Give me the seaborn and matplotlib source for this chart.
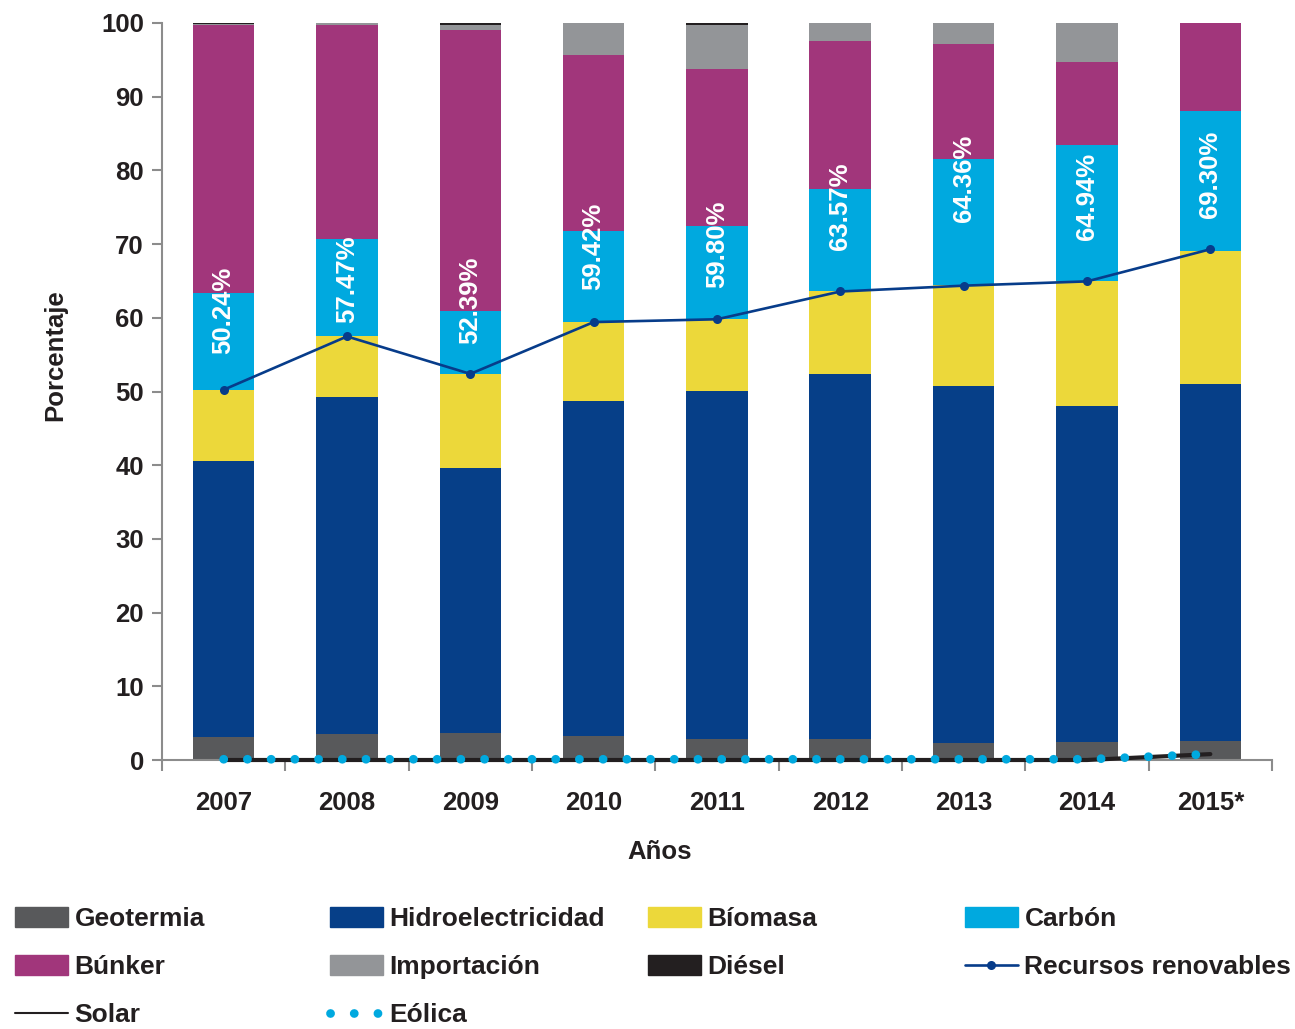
import numpy as np
import matplotlib
matplotlib.use("Agg")
import matplotlib.pyplot as plt
import seaborn as sns
from matplotlib.patches import Patch
from matplotlib.lines import Line2D

# Generation mix by source (percentage of total), 2007-2015
years = ["2007", "2008", "2009", "2010", "2011", "2012", "2013", "2014", "2015*"]
geotermia = [3.1, 3.5, 3.7, 3.3, 2.9, 2.9, 2.3, 2.4, 2.6]
hidroelectricidad = [37.5, 45.7, 35.9, 45.4, 47.2, 49.5, 48.4, 45.6, 48.4]
biomasa = [9.6, 8.3, 12.8, 10.7, 9.7, 11.2, 13.7, 17.0, 18.1]
carbon = [13.1, 13.2, 8.5, 12.4, 12.7, 13.9, 17.1, 18.4, 18.9]
bunker = [36.4, 29.0, 38.2, 23.8, 21.3, 20.0, 15.7, 11.3, 12.0]
importacion = [0.1, 0.3, 0.6, 4.4, 5.9, 2.5, 2.8, 5.3, 0.0]
diesel = [0.2, 0.0, 0.3, 0.0, 0.3, 0.0, 0.0, 0.0, 0.0]
solar = [0.0, 0.0, 0.0, 0.0, 0.0, 0.0, 0.0, 0.0, 0.8]
eolica = [0.1, 0.1, 0.1, 0.1, 0.1, 0.1, 0.1, 0.1, 0.8]
renovables = [50.24, 57.47, 52.39, 59.42, 59.80, 63.57, 64.36, 64.94, 69.30]

C_GEO = "#58595b"
C_HIDRO = "#063f88"
C_BIO = "#ecd83a"
C_CARBON = "#00a9df"
C_BUNKER = "#a1367b"
C_IMPORT = "#939598"
C_DIESEL = "#231f20"
C_RENOV = "#073c8a"
C_TEXT = "#231f20"
C_SPINE = "#8c8c8c"

sns.set_theme(style="white")
plt.rcParams["font.family"] = ["Liberation Sans", "DejaVu Sans"]
plt.rcParams["font.weight"] = "bold"

fig = plt.figure(figsize=(12.95, 10.29), dpi=100)
ax = fig.add_axes([162 / 1295, 1 - 760 / 1029, 1110 / 1295, 737 / 1029])

layers = [
    ("Geotermia", geotermia, C_GEO),
    ("Hidroelectricidad", hidroelectricidad, C_HIDRO),
    ("Bíomasa", biomasa, C_BIO),
    ("Carbón", carbon, C_CARBON),
    ("Búnker", bunker, C_BUNKER),
    ("Importación", importacion, C_IMPORT),
    ("Diésel", diesel, C_DIESEL),
]

bottom = np.zeros(len(years))
for name, vals, color in layers:
    sns.barplot(x=years, y=vals, bottom=bottom.copy(), color=color, saturation=1,
                width=0.5, linewidth=0, ax=ax, zorder=2)
    bottom += np.asarray(vals)

pos = np.arange(len(years))

# Solar and wind series along the base
ax.plot(pos, solar, color=C_DIESEL, lw=3, zorder=6, clip_on=False)
ax.plot(pos, eolica, color=C_CARBON, lw=6.3, linestyle=(0, (0.01, 2.7)),
        dash_capstyle="round", zorder=7, clip_on=False)

# Share of renewable resources
sns.lineplot(x=pos, y=renovables, color=C_RENOV, lw=1.9, marker="o", markersize=6.5,
             markeredgewidth=0, ax=ax, zorder=8)

label_lift = [4.8, 1.8, 4.0, 4.35, 4.2, 5.6, 8.6, 5.6, 4.3]
for i, v in enumerate(renovables):
    ax.text(pos[i], v + label_lift[i], f"{v:.2f}%", rotation=90, ha="center",
            va="bottom", color="white", fontsize=18.5, fontweight="bold", zorder=9)

ax.set_xlim(-0.5, len(years) - 0.5)
ax.set_ylim(0, 100)
ax.set_yticks(np.arange(0, 101, 10))
ax.set_xticks(pos)
ax.set_xticklabels(years)
ax.set_xticks(np.arange(-0.5, len(years), 1), minor=True)
ax.tick_params(axis="y", length=7, width=1.5, color=C_SPINE, pad=6,
               labelsize=18.5, labelcolor=C_TEXT, left=True)
ax.tick_params(axis="x", which="major", length=0, pad=22, labelsize=18.5, labelcolor=C_TEXT)
ax.tick_params(axis="x", which="minor", length=8, width=1.5, color=C_SPINE, bottom=True)
for lbl in ax.get_xticklabels() + ax.get_yticklabels():
    lbl.set_fontweight("bold")
ax.set_xlabel("")
ax.set_ylabel("")

for side in ["top", "right"]:
    ax.spines[side].set_visible(False)
for side in ["left", "bottom"]:
    ax.spines[side].set_color(C_SPINE)
    ax.spines[side].set_linewidth(1.5)

fig.text(660 / 1295, 1 - 852 / 1029, "Años", ha="center", va="center",
         fontsize=18.5, fontweight="bold", color=C_TEXT)
fig.text(55 / 1295, 1 - 355 / 1029, "Porcentaje", ha="center", va="center",
         rotation=90, fontsize=18.5, fontweight="bold", color=C_TEXT)

# Legend laid out as four evenly spaced columns
h = {
    "Geotermia": Patch(color=C_GEO),
    "Hidroelectricidad": Patch(color=C_HIDRO),
    "Bíomasa": Patch(color=C_BIO),
    "Carbón": Patch(color=C_CARBON),
    "Búnker": Patch(color=C_BUNKER),
    "Importación": Patch(color=C_IMPORT),
    "Diésel": Patch(color=C_DIESEL),
    "Recursos renovables": Line2D([], [], color=C_RENOV, lw=1.9, marker="o",
                                  markersize=6.5, markeredgewidth=0),
    "Solar": Line2D([], [], color=C_DIESEL, lw=1.5),
    "Eólica": Line2D([], [], color=C_CARBON, lw=6.3, linestyle=(0, (0.01, 2.7)),
                     dash_capstyle="round"),
}
columns = [
    ["Geotermia", "Búnker", "Solar"],
    ["Hidroelectricidad", "Importación", "Eólica"],
    ["Bíomasa", "Diésel"],
    ["Carbón", "Recursos renovables"],
]
col_x = [15, 330, 648, 965]
for cx, names in zip(col_x, columns):
    fig.legend([h[n] for n in names], names, loc="upper left",
               bbox_to_anchor=(cx / 1295, 1 - 907 / 1029), frameon=False,
               prop={"size": 19, "weight": "bold"}, labelcolor=C_TEXT,
               handlelength=2.0, handleheight=0.8, handletextpad=0.25,
               labelspacing=0.9, borderpad=0.0, borderaxespad=0.0)

fig.savefig("out.png", dpi=100)
